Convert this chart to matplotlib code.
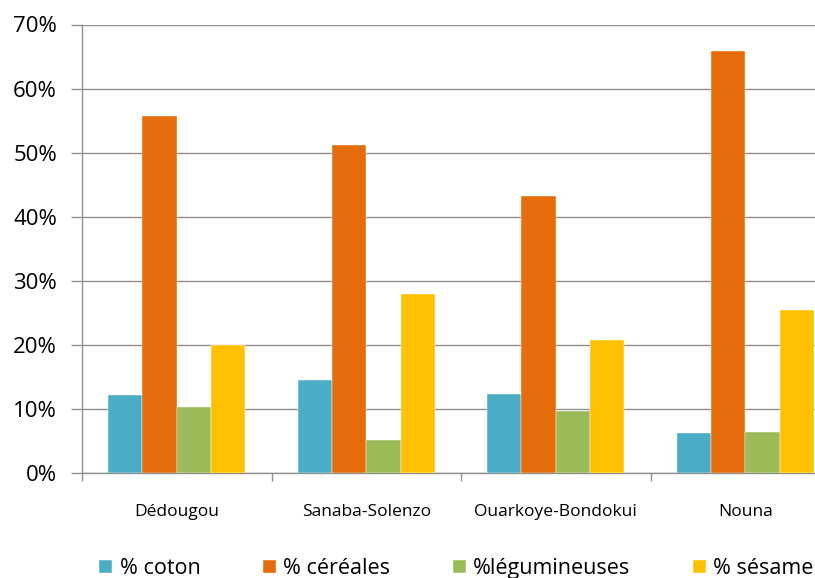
import matplotlib
matplotlib.use("Agg")
import matplotlib.pyplot as plt
import numpy as np
from matplotlib.ticker import FuncFormatter, FixedLocator

categories = ["Dédougou", "Sanaba-Solenzo", "Ouarkoye-Bondokui", "Nouna"]
series_names = ["% coton", "% céréales", "%légumineuses", "% sésame"]
coton = [12.2, 14.6, 12.4, 6.3]
cereales = [55.8, 51.2, 43.3, 65.9]
legumineuses = [10.4, 5.2, 9.8, 6.5]
sesame = [20.0, 28.0, 20.8, 25.5]
colors = ["#4BACC6", "#E46C0A", "#9BBB59", "#FFC000"]

plt.rcParams['font.family'] = ['Open Sans', 'DejaVu Sans']

fig = plt.figure(figsize=(8.15, 5.78), dpi=100)
ax = fig.add_axes([82/815, (578-473.4)/578, (840-82)/815, (473.4-24.5)/578])

x = np.arange(len(categories))
w = 0.181
data = [coton, cereales, legumineuses, sesame]
for i, (vals, name, c) in enumerate(zip(data, series_names, colors)):
    ax.bar(x + (i - 1.5) * w, vals, width=w, color=c, label=name,
           edgecolor='white', linewidth=0.3, zorder=3)

ax.set_ylim(0, 70)
ax.set_xlim(-0.5, len(categories) - 0.5)
ax.set_yticks(np.arange(0, 71, 10))
ax.yaxis.set_major_formatter(FuncFormatter(lambda v, p: f"{int(v)}%"))
ax.grid(axis='y', color='#8f8f8f', linewidth=1.0, zorder=0)
ax.set_axisbelow(True)

ax.set_xticks(x)
ax.set_xticklabels(categories, fontsize=12.5)
ax.xaxis.set_minor_locator(FixedLocator(np.arange(-0.5, len(categories), 1)))
ax.tick_params(axis='x', which='major', length=0, pad=22)
ax.tick_params(axis='x', which='minor', length=6, color='#8f8f8f', width=1)
ax.tick_params(axis='y', length=8, color='#8f8f8f', width=1, labelsize=16, pad=10)

for s in ['top', 'right']:
    ax.spines[s].set_visible(False)
for s in ['left', 'bottom']:
    ax.spines[s].set_color('#8f8f8f')
    ax.spines[s].set_linewidth(1.0)

fig.legend(loc='center', bbox_to_anchor=(0.56, 0.016), ncol=4, frameon=False,
           fontsize=15.5, handlelength=0.6, handleheight=0.6, handletextpad=0.35,
           columnspacing=2.9)

fig.savefig("out.png", dpi=100)
